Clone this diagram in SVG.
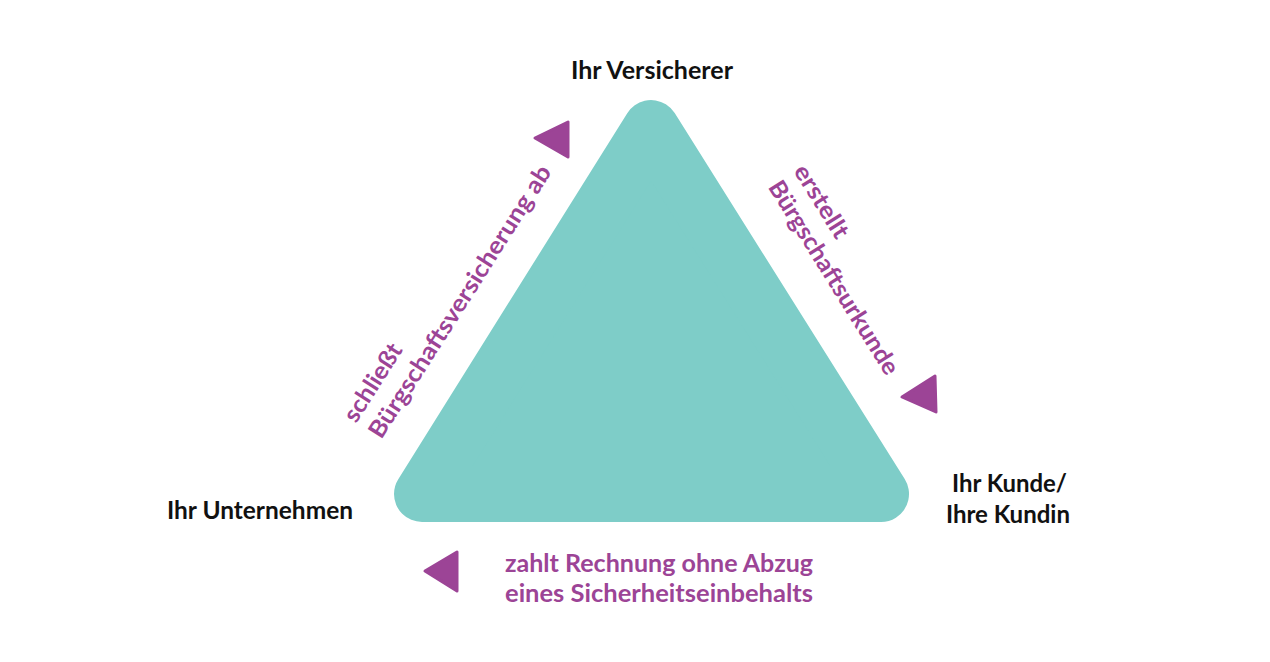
<svg xmlns="http://www.w3.org/2000/svg" width="1270" height="662" viewBox="0 0 1270 662">
<style>
.lbl{font-family:Lato,"Open Sans","Liberation Sans",sans-serif;font-weight:700;font-size:25px;fill:#111111}
.act{font-family:Lato,"Open Sans","Liberation Sans",sans-serif;font-weight:700;font-size:24px;fill:#9C4496}
.arr{fill:#9C4496;stroke:#9C4496;stroke-width:3;stroke-linejoin:round}
</style>
<rect width="1270" height="662" fill="#ffffff"/>
<g id="triangle">
<polygon points="651,128 881,494 422,494" fill="#7ECDC8" stroke="#7ECDC8" stroke-width="56" stroke-linejoin="round"/>
</g>
<g id="node-versicherer">
<text class="lbl" x="571" y="79" textLength="162" lengthAdjust="spacingAndGlyphs">Ihr Versicherer</text>
</g>
<g id="node-unternehmen">
<text class="lbl" x="167" y="519" textLength="186" lengthAdjust="spacingAndGlyphs">Ihr Unternehmen</text>
</g>
<g id="node-kunde">
<text class="lbl" x="952" y="492" textLength="115" lengthAdjust="spacingAndGlyphs">Ihr Kunde/</text>
<text class="lbl" x="946" y="523" textLength="124" lengthAdjust="spacingAndGlyphs">Ihre Kundin</text>
</g>
<g id="connectors">
<g id="edge-left">
<polygon class="arr" points="535,138 568,122 568,157"/>
<g transform="translate(356,424) rotate(-57.5)">
<text class="act" x="0" y="0" textLength="88" lengthAdjust="spacingAndGlyphs">schließt</text>
<text class="act" x="0" y="30" textLength="318" lengthAdjust="spacingAndGlyphs">Bürgschaftsversicherung ab</text>
</g>
</g>
<g id="edge-right">
<polygon class="arr" points="902,397 935,376 936,412"/>
<g transform="translate(793,171) rotate(58)">
<text class="act" x="0" y="0" textLength="82" lengthAdjust="spacingAndGlyphs">erstellt</text>
<text class="act" x="0" y="30" textLength="224" lengthAdjust="spacingAndGlyphs">Bürgschaftsurkunde</text>
</g>
</g>
<g id="edge-bottom">
<polygon class="arr" points="425,571 457,552 457,591"/>
<text class="act" x="505" y="572" textLength="308" lengthAdjust="spacingAndGlyphs">zahlt Rechnung ohne Abzug</text>
<text class="act" x="505" y="602" textLength="308" lengthAdjust="spacingAndGlyphs">eines Sicherheitseinbehalts</text>
</g>
</g>
</svg>
